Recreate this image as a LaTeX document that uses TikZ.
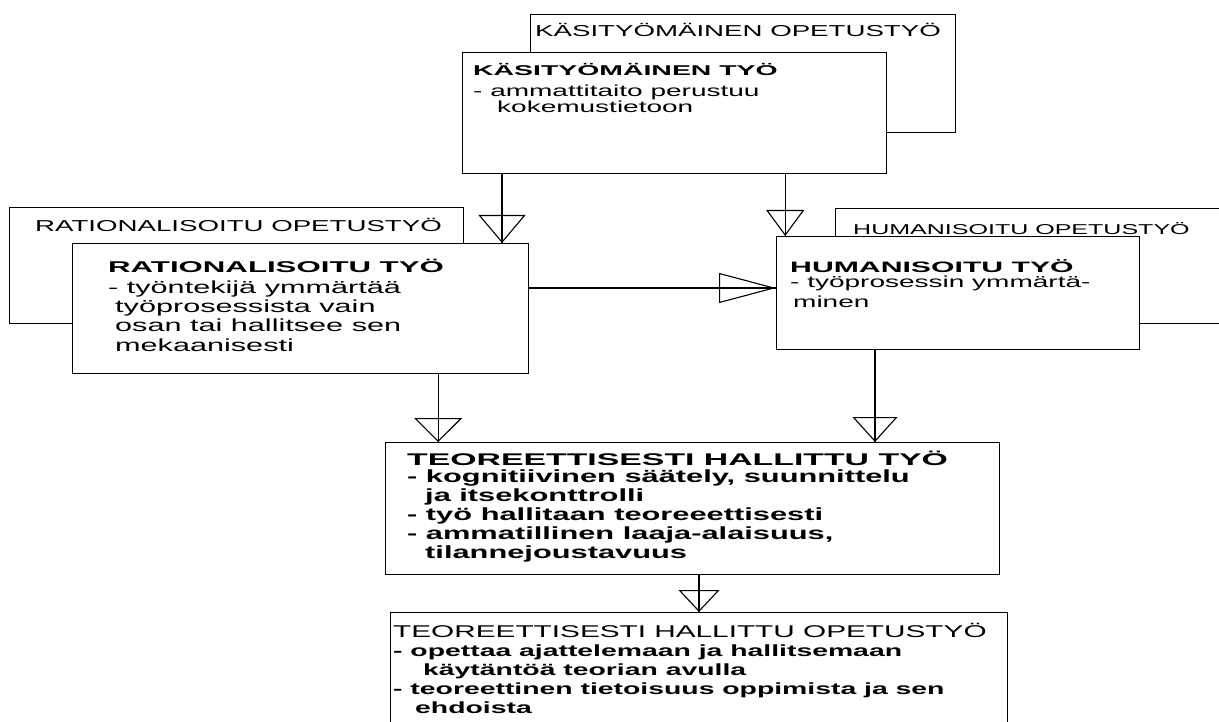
\documentclass[tikz,border=0pt]{standalone}
\usepackage{fontspec}
\usepackage{tikz}
\usetikzlibrary{arrows.meta}
\newfontfamily\diafont[FakeStretch=1.75]{Liberation Sans}
\newfontfamily\headfont[FakeStretch=2]{Liberation Sans}

\tikzset{
  box/.style={draw, line width=1.2pt, fill=white, inner sep=0pt, anchor=north west},
  txt/.style={inner sep=0pt, anchor=base west, align=left},
  tri/.style 2 args={line width=1.1pt, line join=miter,
    postaction={draw, -{Triangle[open, width=#1, length=#2]}}}
}

\begin{document}
\begin{tikzpicture}[x=1pt, y=-1pt]
  \useasboundingbox (0,0) rectangle (1219,722);
  % teaching work behind (base of a text = its last line)
  \node[box, minimum width=425pt, minimum height=118pt] (kob) at (530,14) {};
  \node[txt, font=\diafont\fontsize{15.8}{18}\selectfont] (kobl) at (535,37) {KÄSITYÖMÄINEN OPETUSTYÖ};
  \node[box, minimum width=454pt, minimum height=116pt] (rob) at (9,207) {};
  \node[txt, font=\diafont\fontsize{15.8}{18}\selectfont] (robl) at (35,232) {RATIONALISOITU OPETUSTYÖ};
  \node[box, minimum width=400pt, minimum height=115pt] (hob) at (835,208) {};
  \node[txt, font=\diafont\fontsize{14.3}{17}\selectfont] (hobl) at (853,235) {HUMANISOITU OPETUSTYÖ};

  % work in front
  \node[box, minimum width=424pt, minimum height=121pt] (kt) at (462,52) {};
  \node[txt, font=\headfont\bfseries\fontsize{14.2}{16}\selectfont] (ktl) at (473,76) {KÄSITYÖMÄINEN TYÖ};
  \node[txt, font=\diafont\fontsize{16}{16.5}\selectfont] (ktb) at (473,113)
    {- ammattitaito perustuu\\\hspace*{24pt}kokemustietoon};

  \node[box, minimum width=456pt, minimum height=130pt] (rt) at (72,243) {};
  \node[txt, font=\headfont\bfseries\fontsize{15.6}{17}\selectfont] (rtl) at (108,273) {RATIONALISOITU TYÖ};
  \node[txt, font=\diafont\fontsize{17.5}{19.3}\selectfont] (rtb) at (108,351)
    {- työntekijä ymmärtää\\\hspace*{7pt}työprosessista vain\\\hspace*{7pt}osan tai hallitsee sen\\\hspace*{7pt}mekaanisesti};

  \node[box, minimum width=363pt, minimum height=113pt] (ht) at (776,236) {};
  \node[txt, font=\headfont\bfseries\fontsize{15.1}{17}\selectfont] (htl) at (790,273) {HUMANISOITU TYÖ};
  \node[txt, font=\diafont\fontsize{16}{20}\selectfont] (htb) at (790,308)
    {- työprosessin ymmärtä-\\\hspace*{3pt}minen};

  \node[box, minimum width=614pt, minimum height=132pt] (tt) at (385,442) {};
  \node[txt, font=\headfont\bfseries\fontsize{16.9}{18}\selectfont] (ttl) at (407,465) {TEOREETTISESTI HALLITTU TYÖ};
  \node[txt, font=\diafont\bfseries\fontsize{17.6}{18.8}\selectfont] (ttb) at (407,558)
    {- kognitiivinen säätely, suunnittelu\\\hspace*{18pt}ja itsekonttrolli\\- työ hallitaan teoreeettisesti\\- ammatillinen laaja-alaisuus,\\\hspace*{18pt}tilannejoustavuus};

  \node[box, minimum width=617pt, minimum height=130pt] (tho) at (390,612) {};
  \node[txt, font=\diafont\fontsize{17}{19}\selectfont] (thol) at (393,637) {TEOREETTISESTI HALLITTU OPETUSTYÖ};
  \node[txt, font=\diafont\bfseries\fontsize{16.2}{19}\selectfont] (thob) at (393,713)
    {- opettaa ajattelemaan ja hallitsemaan\\\hspace*{30pt}käytäntöä teorian avulla\\- teoreettinen tietoisuus oppimista ja sen\\\hspace*{22pt}ehdoista};

  % arrows
  \draw[tri={47pt}{28pt}] ([xshift=40pt]kt.south west) coordinate (a1) -- (a1 |- rt.north);
  \draw[tri={38pt}{26pt}] ([xshift=-102pt]kt.south east) coordinate (a2) -- (a2 |- ht.north);
  \draw[tri={30pt}{57pt}] ([yshift=-45pt]rt.north east) coordinate (a3) -- (a3 -| ht.west);
  \draw[tri={48pt}{24pt}] ([xshift=-91pt]rt.south east) coordinate (a4) -- (a4 |- tt.north);
  \draw[tri={45pt}{25pt}] ([xshift=99pt]ht.south west) coordinate (a5) -- (a5 |- tt.north);
  \draw[tri={41pt}{22pt}] ([xshift=314pt]tt.south west) coordinate (a6) -- (a6 |- tho.north);
\end{tikzpicture}
\end{document}
